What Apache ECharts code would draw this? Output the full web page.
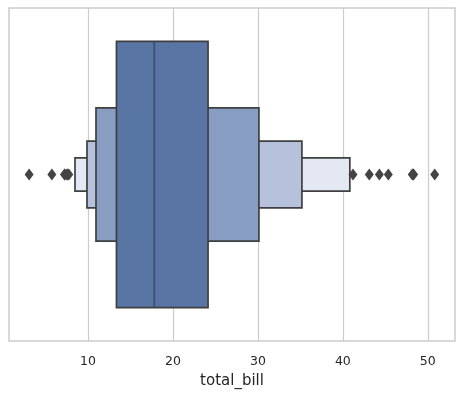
<!DOCTYPE html>
<html lang="en">
<head>
    <meta charset="UTF-8">
    <title>Boxen plot of total_bill</title>
    <style>
        html, body { margin: 0; padding: 0; background: #fff; }
        #chart { width: 464px; height: 397px; }
    </style>
</head>
<body>
<div id="chart"></div>
<script src="https://cdn.jsdelivr.net/npm/echarts/dist/echarts.min.js"></script>
<script>
// letter-value boxes, from the widest (inner) to the narrowest (outer)
const boxLow = [13.35, 10.94, 9.88, 8.47];
const boxHigh = [24.13, 30.12, 35.18, 40.82];
const boxColors = ['#5975a4', '#889dc2', '#b6c2dc', '#e4e8f2'];
const median = 17.80;
const outliers = [3.07, 5.75, 7.25, 7.25, 7.51, 7.56, 7.74, 41.19, 43.11, 44.30, 45.35, 48.17, 48.27, 48.33, 50.81];
const xTicks = [10, 20, 30, 40, 50];

const chart = echarts.init(document.getElementById('chart'));

const boxData = boxLow.map((lo, i) => [lo, boxHigh[i], i]);

chart.setOption({
    animation: false,
    grid: { left: 9, right: 9, top: 8, bottom: 56, show: true, borderColor: '#cccccc', borderWidth: 1.5 },
    xAxis: {
        type: 'value',
        min: 0.7,
        max: 53.2,
        name: 'total_bill',
        nameLocation: 'middle',
        nameGap: 33,
        nameTextStyle: { fontFamily: 'DejaVu Sans', fontSize: 15, color: '#262626' },
        axisLine: { show: false },
        axisTick: { show: false, customValues: xTicks },
        axisLabel: {
            fontFamily: 'DejaVu Sans', fontSize: 12.5, color: '#262626', margin: 14,
            customValues: xTicks
        },
        splitLine: { show: true, lineStyle: { color: '#cccccc', width: 1.2 } }
    },
    yAxis: {
        type: 'value', min: -0.5, max: 0.5,
        show: false, splitLine: { show: false }
    },
    series: [
        {
            type: 'custom',
            z: 2,
            data: boxData.slice().reverse(),
            renderItem: function (params, api) {
                const lvl = api.value(2);
                const half = 0.4 * Math.pow(0.5, lvl);
                const p0 = api.coord([api.value(0), half]);
                const p1 = api.coord([api.value(1), -half]);
                return {
                    type: 'rect',
                    shape: { x: p0[0], y: p0[1], width: p1[0] - p0[0], height: p1[1] - p0[1] },
                    style: { fill: boxColors[lvl], stroke: '#3f3f3f', lineWidth: 1.7 }
                };
            }
        },
        {
            type: 'custom',
            z: 3,
            data: [[median]],
            renderItem: function (params, api) {
                const a = api.coord([api.value(0), 0.4]);
                const b = api.coord([api.value(0), -0.4]);
                return {
                    type: 'line',
                    shape: { x1: a[0], y1: a[1], x2: b[0], y2: b[1] },
                    style: { stroke: '#3c4d6c', lineWidth: 1.7 }
                };
            }
        },
        {
            type: 'scatter',
            z: 4,
            symbol: 'diamond',
            symbolSize: [9, 12],
            itemStyle: { color: '#444444', opacity: 1 },
            data: outliers.map(v => [v, 0])
        }
    ]
});
</script>
</body>
</html>
